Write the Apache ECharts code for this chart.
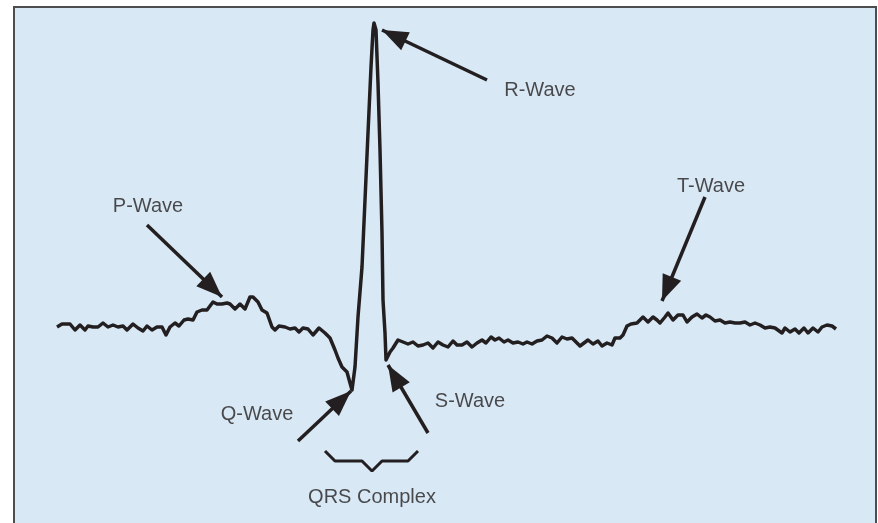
<!DOCTYPE html>
<html><head><meta charset="utf-8">
<script src="https://cdn.jsdelivr.net/npm/echarts@6/dist/echarts.min.js"></script>
<style>html,body{margin:0;padding:0;background:#fff;overflow:hidden}#c{width:878px;height:528px}</style>
</head><body><div id="c"></div>
<script>
// ECG trace: sample position and amplitude (arbitrary units, baseline = 0)
const ecgT = [57,62,70,75,80,85,88,93,98,103,108,113,118,123,127,133,138,143,147,152,157,162,166,170,175,179,184,188,193,197,202,207,213,217,222,227,230,235,240,245,250,253,258,262,267,272,275,279,285,290,295,299,303,308,313,319,325,330,335,338,342,347,350,352,355,358,362,365,368,371,373,374,376,378,380,382,383,385,386,390,393,398,403,408,413,418,423,428,433,438,443,448,453,457,462,467,472,477,482,486,491,495,499,504,508,513,518,523,527,532,537,542,547,552,557,562,567,572,575,580,584,588,593,598,602,607,612,615,620,623,627,631,637,640,643,648,653,657,660,665,668,673,678,683,687,692,697,702,706,710,715,720,725,730,735,740,745,750,755,760,765,770,775,782,785,790,795,799,804,808,813,818,822,827,832,836];
const ecgAmp = [-1,2,2,-4,1,-4,0,-1,-1,3,-1,1,-1,0,-4,2,-2,-5,0,-4,-1,-1,-9,-1,3,0,6,7,6,14,16,16,24,22,22,23,22,17,22,17,29,29,24,16,13,-1,-4,0,-1,-3,-2,-6,-2,-3,-9,-2,-7,-12,-24,-32,-41,-46,-57,-64,-41,9,59,126,193,259,296,303,296,243,176,93,26,-7,-34,-26,-22,-14,-16,-18,-16,-20,-19,-17,-22,-16,-19,-21,-15,-19,-19,-16,-21,-17,-14,-17,-11,-14,-12,-16,-14,-17,-16,-18,-16,-18,-15,-14,-10,-12,-17,-11,-13,-12,-15,-20,-17,-14,-18,-15,-20,-17,-19,-12,-12,-9,0,2,3,6,9,4,9,6,3,9,13,6,11,11,4,9,12,8,11,9,5,6,3,4,3,3,4,1,3,1,-2,-1,-2,-7,-2,-6,-3,-7,-2,-7,-2,-6,-1,1,0,-3];

// Annotation labels
const labelNames = ['P-Wave','Q-Wave','R-Wave','S-Wave','T-Wave','QRS Complex'];
const labelT     = [148, 257, 540, 470, 711, 372];
const labelAmp   = [120, -88, 236, -75, 140, -171];

// Arrows: start -> tip
const arrowFromT   = [147, 298, 487, 428, 705];
const arrowFromAmp = [101, -115, 246, -107, 129];
const arrowToT     = [222, 351, 382, 388, 662];
const arrowToAmp   = [29, -65, 296, -39, 25];

// QRS bracket
const bracketT   = [325, 335, 362, 372, 382, 408, 418];
const bracketAmp = [-125, -135, -135, -145, -135, -135, -125];

const ink = '#231f20';
const chart = echarts.init(document.getElementById('c'));
chart.setOption({
  animation: false,
  backgroundColor: '#ffffff',
  grid: { left: 14, top: 7, right: 2, bottom: 0, show: true,
          backgroundColor: '#d9e8f5', borderColor: '#4d4d4f', borderWidth: 2 },
  xAxis: { type: 'value', min: 14, max: 876, show: false },
  yAxis: { type: 'value', min: -202, max: 319, show: false },
  series: [
    { type: 'line', data: ecgT.map((t, i) => [t, ecgAmp[i]]), showSymbol: false,
      lineStyle: { color: ink, width: 3.5, join: 'round' }, z: 3,
      markLine: {
        silent: true, animation: false,
        symbol: ['none', 'triangle'],
        symbolSize: 20,
        lineStyle: { color: ink, width: 3.5, type: 'solid' },
        itemStyle: { color: ink },
        label: { show: false },
        emphasis: { disabled: true },
        data: arrowFromT.map((t, i) => [
          { coord: [t, arrowFromAmp[i]], symbol: 'none' },
          { coord: [arrowToT[i], arrowToAmp[i]], symbol: 'triangle', symbolSize: [20, 26], symbolOffset: [0, 13] }
        ])
      }
    },
    { type: 'line', data: bracketT.map((t, i) => [t, bracketAmp[i]]), showSymbol: false,
      lineStyle: { color: ink, width: 3 } },
    { type: 'scatter', symbolSize: 1, itemStyle: { color: 'rgba(0,0,0,0)' },
      data: labelNames.map((n, i) => ({ value: [labelT[i], labelAmp[i]], name: n })),
      label: { show: true, position: 'inside', formatter: p => p.name,
               color: ink, fontSize: 20, fontFamily: 'Liberation Sans, Arial, sans-serif' } }
  ]
});
</script></body></html>
